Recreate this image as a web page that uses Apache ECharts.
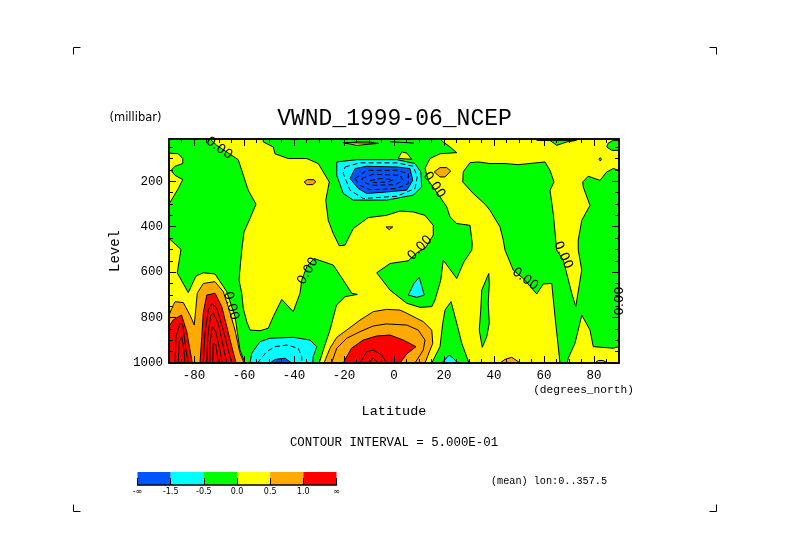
<!DOCTYPE html>
<html><head><meta charset="utf-8">
<style>html,body{margin:0;padding:0;background:#fff}#c{width:789px;height:558px}</style>
<script src="https://cdn.jsdelivr.net/npm/echarts@6/dist/echarts.min.js"></script>
</head><body><div id="c"></div>
<script>
// Filled-contour regions: [latitude, level in mb]
const fullDomain = [[-90,14],[90,14],[90,1000],[-90,1000]];
const greenPolarBottom = [[-90,14],[-73.6,14],[-70.9,42],[-62.3,105],[-60.9,152],[-58.3,240],[-55.2,301],[-57.6,364],[-60,423],[-60.9,503],[-62,635],[-60.9,693],[-60.3,759],[-58.9,818],[-57.6,855],[-53.6,858],[-50.3,847],[-48.3,796],[-44.9,720],[-40.3,774],[-37.6,693],[-36.9,635],[-34.9,576],[-32,540],[-24.3,569],[-20.3,635],[-16.9,693],[-14.7,698],[-19.6,708],[-23,745],[-25.6,855],[-28.3,943],[-29.9,1000],[-59.6,1000],[-61.6,943],[-63.6,796],[-66.9,686],[-71.6,608],[-76.3,603],[-79.2,617],[-82.3,690],[-86.7,603],[-85.9,547],[-85.2,500],[-90,452],[-90,301],[-86.3,232],[-84.5,193],[-87.6,174],[-89.2,152],[-87.6,134],[-84.5,122],[-84.5,100],[-86.3,79],[-90,76]];
const greenCentral = [[-52.3,14],[-52.3,27],[-48.3,49],[-47.6,79],[-42.3,100],[-34.9,100],[-30.3,122],[-28.3,159],[-25.9,203],[-27.3,284],[-26.3,372],[-24.3,430],[-21.9,484],[-19.6,481],[-16.3,408],[-10.3,360],[-3,350],[2.4,331],[7.7,335],[12.4,350],[15.7,394],[15.7,437],[12.4,496],[9.7,510],[5.7,550],[-1.6,562],[-6.9,603],[-1.6,679],[5.1,737],[10.4,755],[15.1,752],[16.4,723],[18.7,635],[19.7,547],[25.1,628],[28,554],[31.1,503],[31.3,474],[30.4,394],[25.1,386],[22.4,357],[21.1,313],[18.4,269],[13.7,196],[12.4,144],[14.4,100],[18.4,79],[25.1,74],[22.4,49],[19.7,27],[18.4,14]];
const greenRight = [[30.4,118],[33.7,115],[38.4,122],[44.4,122],[49.7,127],[60.4,115],[62.4,152],[64,203],[62.4,240],[63.7,342],[64.7,459],[65.1,503],[67.7,547],[71.1,693],[72.7,752],[75.1,591],[73.7,503],[73.7,459],[75.1,372],[78.4,306],[75.7,225],[75.5,203],[77.7,178],[82.4,196],[85.1,159],[87.7,144],[90,152],[90,928],[87.7,935],[79.7,928],[78.4,855],[75.1,789],[72.4,913],[69.7,979],[69.3,1000],[66.4,1000],[64.4,796],[63.1,650],[59.7,652],[57.1,696],[51.7,628],[47.7,591],[44.4,503],[43.7,459],[42.4,401],[38.4,328],[36.4,301],[31.7,254],[27.5,203],[27.7,159]];
const greenLens = [[37.9,606],[38.1,650],[37.7,737],[38.1,825],[37.1,884],[35.3,931],[34.1,855],[34.7,767],[35.1,679]];
const greenBottom = [[22.8,730],[25.1,825],[27.1,913],[30,1000],[15.1,1000],[18.4,928],[19.5,825],[20.4,767]];
const greenTopLens = [[57.1,20],[62.4,20],[65.1,42],[69.1,27],[73,20]];
const greenTopCorner = [[85.7,32],[87.7,20],[90,20],[90,64],[87.1,64],[85.1,49]];
const greenDot = [[82,103],[82.5,96],[83,103],[82.5,111]];
const yellowTopSliver = [[-19.6,32],[-14.9,27],[-9.6,27],[-6.9,34],[-14.9,42]];
const yellowIsland = [[1.7,100],[3.1,71],[5.1,76],[7.1,103]];
const orangeBlobA = [[-35.9,203],[-34.7,193],[-32,193],[-31.3,203],[-32.5,215],[-34.9,215]];
const orangeBlobB = [[16.1,159],[18.4,140],[21.1,140],[22.7,155],[20.4,181],[18.4,181]];
const orangeBlobC = [[-3.2,401],[-0.5,401],[-1.9,413]];
const orangePolar = [[-90,1000],[-90,790],[-88.9,760],[-87.6,730],[-84.3,734],[-81.6,789],[-79.9,833],[-78.7,693],[-76.3,650],[-71.6,642],[-68.3,686],[-66.3,752],[-63.6,855],[-61.6,957],[-60,1000]];
const orangeEquator = [[-28,1000],[-25.6,935],[-22.9,887],[-18.9,855],[-13.6,811],[-8.3,774],[-3,764],[2.4,767],[5.1,781],[11.7,818],[15.1,855],[15.5,913],[12.4,1000]];
const orangeBumpA = [[42.4,1000],[44.4,984],[47.1,975],[49.7,994],[50.4,1000]];
const orangeBumpB = [[80.4,1000],[81.7,989],[83.7,989],[85.3,1000]];
const redPolarA = [[-77.6,1000],[-76.9,884],[-76.3,781],[-74.9,701],[-71.6,693],[-68.9,752],[-66.9,840],[-64.9,928],[-63.2,1000]];
const redPolarB = [[-90,1000],[-90,840],[-88.3,810],[-85,789],[-82.9,862],[-81.6,943],[-80.7,1000]];
const redEquator = [[-20.3,1000],[-17,935],[-12.3,899],[-6.9,881],[-1.6,877],[3.7,899],[8.8,928],[5.1,960],[2.4,1000]];
const cyanJet = [[-22.9,115],[-14.9,105],[1.1,105],[8.4,122],[10.7,159],[11.1,225],[7.7,261],[-2.9,283],[-16.3,283],[-20.3,254],[-22.9,174]];
const blueJet = [[-17.6,188],[-15.6,144],[-10.9,134],[1.1,137],[6.4,144],[7.5,196],[5.1,239],[-2.9,247],[-10.9,254],[-14.3,232]];
const cyanLow = [[-57.6,1000],[-56.9,957],[-53.6,906],[-49.6,891],[-40.3,887],[-33.6,899],[-30.9,928],[-32.3,972],[-32.5,1000]];
const blueLow = [[-49.6,1000],[-47.6,984],[-43.6,979],[-40.9,1000]];
const cyanIsland = [[10.1,623],[12.1,701],[9.1,711],[5.7,701],[8,649]];
const cyanBump = [[19.1,1000],[22.1,965],[23.7,979],[25.5,1000]];

// Interior contour lines
const redLineA = [[-76.3,1000],[-75.6,869],[-74.3,767],[-72.9,737],[-70.9,759],[-68.3,855],[-66.3,943],[-64.9,1000]];
const redLineB = [[-74.9,1000],[-74.5,884],[-73.3,789],[-72.3,781],[-70.3,825],[-68.3,928],[-66.9,1000]];
const redLineC = [[-73.6,1000],[-73.6,913],[-72.7,840],[-71.3,862],[-69.6,943],[-68.7,1000]];
const redLineD = [[-72.5,1000],[-72.3,913],[-71.2,921],[-70.3,1000]];
const redLineE = [[-87.6,1000],[-87.2,884],[-85.6,825],[-84.5,833],[-83.2,943],[-82.3,1000]];
const redLineF = [[-86.3,1000],[-85.9,906],[-84.9,884],[-84,943],[-83.6,1000]];
const orangeLine = [[-25,1000],[-22.9,935],[-18.9,891],[-13.6,862],[-8.3,837],[-3,828],[5.1,833],[9.7,855],[12.4,899],[11.7,943],[8.4,1000]];
const redEqLineA = [[-13.6,1000],[-10.9,950],[-8.3,943],[-4.9,965],[-2.9,1000]];
const redEqLineB = [[-10.3,1000],[-8.3,979],[-6.3,1000]];
const topClutter = [[-20.5,30],[-6,33]];
const topClutterB = [[-1.6,26],[8,32]];
const dashCyanJet = [[-19.6,137],[-13.6,119],[1.1,119],[7.7,134],[9.3,181],[8.4,232],[1.1,266],[-12.3,276],[-17.6,239],[-20.3,166],[-19.6,137]];
const dashBlueA = [[-15.6,188],[-10.9,152],[1.1,152],[5.7,166],[5.7,210],[1.1,232],[-9.6,237],[-13.6,218],[-15.6,188]];
const dashBlueB = [[-12.9,188],[-8.3,169],[2.4,174],[3.7,196],[0.4,215],[-8.3,218],[-11.6,207],[-12.9,188]];
const dashBlueC = [[-9.6,198],[-5.6,188],[-0.3,193],[-2.3,203],[-8.3,206],[-9.6,198]];
const dashCyanLow = [[-54.5,1000],[-53.6,986],[-50.9,950],[-47.6,928],[-42.9,921],[-38.3,935],[-36.9,972],[-36.9,1000]];

// Contour labels: [latitude, level, angle in degrees]
const zeroLabels = [[-70,55,-35],[16,217,-55],[10.4,494,45],[67.6,525,-65],[52.4,631,-37],[90.4,727,90],[-65.2,749,-75],[-34.4,596,60]];

// Axes and colour key
const latMajor = [-80,-60,-40,-20,0,20,40,60,80];
const latMinor = [-85,-75,-70,-65,-55,-50,-45,-35,-30,-25,-15,-10,-5,5,10,15,25,30,35,45,50,55,65,70,75,85];
const levelMajor = [200,400,600,800,1000];
const levelMinor = [50,100,150,250,300,350,450,500,550,650,700,750,850,900,950];
const keyColors = ['#0055ff','#00ffff','#00ff00','#ffff00','#ffaa00','#ff0000'];
const keyLabels = ['-\u221e','-1.5','-0.5','0.0','0.5','1.0','\u221e'];

const BLUE=keyColors[0],CYAN=keyColors[1],GREEN=keyColors[2],YELLOW=keyColors[3],ORANGE=keyColors[4],RED=keyColors[5];
const layers = [
 [YELLOW,fullDomain],[GREEN,greenPolarBottom],[GREEN,greenCentral],[GREEN,greenRight],[GREEN,greenLens],[GREEN,greenBottom],
 [GREEN,greenTopLens],[GREEN,greenTopCorner],[GREEN,greenDot],[YELLOW,yellowTopSliver],[YELLOW,yellowIsland],
 [ORANGE,orangeBlobA],[ORANGE,orangeBlobB],[ORANGE,orangeBlobC],[ORANGE,orangePolar],[ORANGE,orangeEquator],[ORANGE,orangeBumpA],[ORANGE,orangeBumpB],
 [RED,redPolarA],[RED,redPolarB],[RED,redEquator],
 [CYAN,cyanJet],[BLUE,blueJet],[CYAN,cyanLow],[BLUE,blueLow],[CYAN,cyanIsland],[CYAN,cyanBump]
];
const solidLines = [redLineA,redLineB,redLineC,redLineD,redLineE,redLineF,orangeLine,redEqLineA,redEqLineB,topClutter,topClutterB];
const dashedLines = [dashCyanJet,dashBlueA,dashBlueB,dashBlueC,dashCyanLow];

const MONO = '"Liberation Mono",monospace';
const chart = echarts.init(document.getElementById('c'));

function xAx(pos,vals,len,labels,name){return {type:'value',gridIndex:0,position:pos,min:-90,max:90,z:5,
  name:name||'',nameLocation:'middle',nameGap:41,nameTextStyle:{fontFamily:MONO,fontSize:13.5,color:'#000'},
  axisLine:{show:true,onZero:false,lineStyle:{color:'#000',width:1.5}},
  axisTick:{show:true,inside:true,length:len,customValues:vals,lineStyle:{color:'#000',width:1}},
  axisLabel:{show:!!labels,customValues:vals,fontFamily:MONO,fontSize:12.5,color:'#000',margin:6,formatter:v=>String(v)},
  splitLine:{show:false}};}
function yAx(pos,vals,len,labels,name){return {type:'value',gridIndex:0,position:pos,min:14,max:1000,inverse:true,z:5,
  name:name||'',nameLocation:'middle',nameGap:36,nameRotate:90,nameTextStyle:{fontFamily:MONO,fontSize:14,color:'#000'},
  axisLine:{show:true,onZero:false,lineStyle:{color:'#000',width:1.5}},
  axisTick:{show:true,inside:true,length:len,customValues:vals,lineStyle:{color:'#000',width:1}},
  axisLabel:{show:!!labels,customValues:vals,fontFamily:MONO,fontSize:12.5,color:'#000',margin:6,formatter:v=>String(v)},
  splitLine:{show:false}};}

function pts(api,a){return a.map(p=>api.coord(p));}
function corner(x,y,dx,dy){return {type:'polyline',shape:{points:[[x+dx,y],[x,y],[x,y+dy]]},style:{stroke:'#000',lineWidth:1,fill:null},silent:true};}
function label(text,x,y,size,align,family){return {type:'text',x:x,y:y,silent:true,style:{text:text,fill:'#000',font:size+'px '+(family||MONO),textAlign:align||'center',textVerticalAlign:'middle'}};}

chart.setOption({
 animation:false,backgroundColor:'#fff',
 title:{text:'VWND_1999-06_NCEP',left:389.5,top:102,textAlign:'center',textStyle:{fontFamily:MONO,fontSize:23,fontWeight:'normal',color:'#000'}},
 grid:[{left:169,top:139,width:450,height:224},{left:137.5,top:472,width:199,height:13}],
 xAxis:[xAx('bottom',latMajor,7,true,'Latitude'),xAx('bottom',latMinor,4),xAx('top',latMajor,7),xAx('top',latMinor,4),
  {type:'value',gridIndex:1,min:0,max:6,interval:1,position:'bottom',z:5,
   axisLine:{show:true,onZero:false,lineStyle:{color:'#000',width:1.5}},
   axisTick:{show:true,inside:true,length:7,lineStyle:{color:'#000',width:1}},
   axisLabel:{fontFamily:'"DejaVu Sans",sans-serif',fontSize:8,color:'#000',margin:3,formatter:v=>keyLabels[v]},
   splitLine:{show:false}}],
 yAxis:[yAx('left',levelMajor,7,true,'Level'),yAx('left',levelMinor,4),yAx('right',levelMajor,7),yAx('right',levelMinor,4),
  {type:'value',gridIndex:1,min:0,max:1,show:false,splitLine:{show:false}}],
 series:[
  {type:'custom',xAxisIndex:0,yAxisIndex:0,clip:true,silent:true,z:2,data:layers.map((l,i)=>[i]),
   renderItem:(p,api)=>({type:'polygon',shape:{points:pts(api,layers[p.dataIndex][1])},style:{fill:layers[p.dataIndex][0],stroke:'#000',lineWidth:1}})},
  {type:'custom',xAxisIndex:0,yAxisIndex:0,clip:true,silent:true,z:3,data:solidLines.map((l,i)=>[i]),
   renderItem:(p,api)=>({type:'polyline',shape:{points:pts(api,solidLines[p.dataIndex])},style:{fill:null,stroke:'#000',lineWidth:1}})},
  {type:'custom',xAxisIndex:0,yAxisIndex:0,clip:true,silent:true,z:3,data:dashedLines.map((l,i)=>[i]),
   renderItem:(p,api)=>({type:'polyline',shape:{points:pts(api,dashedLines[p.dataIndex])},style:{fill:null,stroke:'#000',lineWidth:1,lineDash:[5,3]}})},
  {type:'custom',xAxisIndex:0,yAxisIndex:0,clip:false,silent:true,z:4,data:zeroLabels.map((l,i)=>[i]),
   renderItem:(p,api)=>{const z=zeroLabels[p.dataIndex],c=api.coord([z[0],z[1]]);
    return {type:'text',x:c[0],y:c[1],rotation:z[2]*Math.PI/180,style:{text:'0.00',fill:'#000',font:'13px "DejaVu Sans"',textAlign:'center',textVerticalAlign:'middle'}};}},
  {type:'custom',xAxisIndex:4,yAxisIndex:4,silent:true,z:2,data:keyColors.map((c,i)=>[i]),
   renderItem:(p,api)=>{const a=api.coord([p.dataIndex,1]),b=api.coord([p.dataIndex+1,0]);
    return {type:'rect',shape:{x:a[0],y:a[1],width:b[0]-a[0],height:b[1]-a[1]},style:{fill:keyColors[p.dataIndex]}};}}
 ],
 graphic:[
  corner(73.5,47.5,7,7),corner(716.5,47.5,-7,7),corner(73.5,511.5,7,-7),corner(716.5,511.5,-7,-7),
  label('(millibar)',135.5,118,11.5,'center','"DejaVu Sans"'),
  label('(degrees_north)',583.5,390,11.2),
  label('CONTOUR INTERVAL = 5.000E-01',394,443,12.4),
  label('(mean) lon:0..357.5',549,481,10.2)
 ]
});
</script></body></html>
